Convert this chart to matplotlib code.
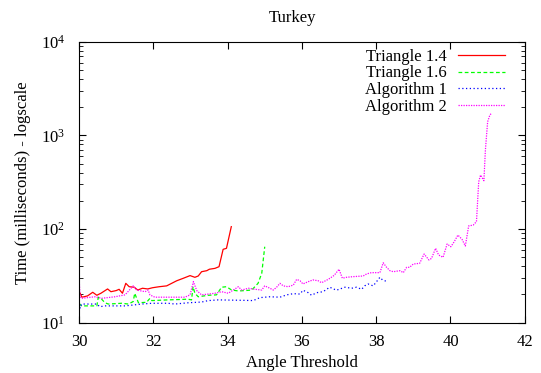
import matplotlib
matplotlib.use("Agg")
import matplotlib.pyplot as plt

plt.rcParams['font.family'] = ['Liberation Serif', 'DejaVu Serif']
plt.rcParams['mathtext.fontset'] = 'stix'

# Triangle 1.4
t14_x = [30.03, 30.08, 30.23, 30.37, 30.48, 30.59, 30.77, 30.86, 31.0, 31.08, 31.17,
         31.26, 31.35, 31.49, 31.58, 31.71, 31.85, 31.98, 32.16, 32.36, 32.63, 32.81,
         32.99, 33.12, 33.21, 33.3, 33.44, 33.51, 33.66, 33.77, 33.88, 33.97, 34.1]
t14_y = [20.6, 18.7, 19.3, 21.1, 19.6, 20.6, 22.9, 21.4, 22.0, 22.7, 20.6,
         26.3, 24.2, 23.9, 22.3, 23.3, 22.9, 23.6, 24.2, 24.7, 28.0, 29.8,
         31.8, 30.5, 31.5, 35.0, 35.9, 37.2, 38.0, 39.6, 60.7, 62.2, 106]

# Triangle 1.6
t16_x = [30.0, 30.07, 30.48, 30.52, 30.61, 30.7, 30.79, 31.15, 31.33, 31.46, 31.5,
         31.6, 31.82, 31.91, 31.96, 32.4, 32.94, 33.03, 33.07, 33.12, 33.21, 33.48,
         33.7, 33.84, 33.97, 34.11, 34.29, 34.47, 34.65, 34.82, 34.92, 34.96, 35.0]
t16_y = [16.1, 15.1, 15.1, 18.7, 17.8, 16.3, 15.8, 16.1, 15.8, 16.8, 20.6,
         16.3, 16.5, 18.2, 17.2, 17.5, 17.8, 17.5, 24.2, 20.6, 18.9, 19.6,
         19.8, 23.9, 24.2, 22.3, 21.8, 22.0, 22.3, 26.3, 33.7, 46.7, 64.7]

# Algorithm 1
a1_x = [30.0, 30.03, 30.07, 30.48, 30.56, 30.7, 31.24, 31.69, 31.96, 32.4, 32.58,
        32.94, 33.3, 33.48, 33.75, 34.47, 34.69, 34.87, 35.14, 35.41, 35.59, 35.77,
        35.95, 36.03, 36.17, 36.26, 36.4, 36.57, 36.75, 36.93, 37.16, 37.34, 37.47,
        37.61, 37.69, 37.78, 37.92, 38.01, 38.1, 38.17, 38.3]
a1_y = [16.1, 14.3, 15.8, 15.8, 14.8, 15.1, 15.1, 15.8, 16.1, 16.1, 15.8,
        16.3, 16.6, 17.2, 17.5, 17.3, 17.2, 18.5, 18.9, 18.7, 19.8, 20.4,
        20.2, 22.2, 20.9, 19.6, 20.9, 21.4, 23.9, 22.2, 23.9, 23.3, 23.9,
        22.7, 24.7, 25.9, 24.7, 27.4, 30.5, 28.6, 27.4]

# Algorithm 2
a2_x = [30.0, 30.03, 30.07, 30.43, 30.61, 30.97, 31.24, 31.46, 31.55, 31.78, 31.86,
        31.91, 32.04, 32.49, 32.85, 32.99, 33.08, 33.17, 33.3, 33.66, 33.84, 34.02,
        34.29, 34.38, 34.56, 34.74, 34.92, 35.0, 35.14, 35.23, 35.32, 35.41, 35.5,
        35.63, 35.77, 35.86, 35.95, 36.03, 36.17, 36.3, 36.44, 36.53, 36.71, 36.87,
        37.0, 37.09, 37.2, 37.38, 37.65, 37.74, 37.87, 38.1, 38.19, 38.28, 38.37,
        38.46, 38.64, 38.73, 38.82, 38.9, 39.0, 39.17, 39.29, 39.42, 39.49, 39.6,
        39.68, 39.8, 39.91, 40.01, 40.1, 40.2, 40.31, 40.4, 40.49, 40.61, 40.7,
        40.76, 40.81, 40.9, 40.94, 41.0, 41.06, 41.1]
a2_y = [31.0, 18.9, 18.2, 18.9, 18.2, 18.9, 19.8, 24.7, 22.3, 21.4, 22.3,
        19.8, 18.7, 18.7, 18.7, 19.8, 27.4, 22.0, 19.8, 20.6, 21.4, 20.6,
        24.2, 22.3, 23.3, 22.7, 22.3, 24.7, 23.3, 22.3, 23.9, 26.3, 24.7,
        24.2, 25.2, 29.0, 28.0, 25.9, 27.4, 28.6, 28.0, 26.7, 29.0, 32.0,
        37.2, 29.8, 30.5, 31.0, 31.5, 33.1, 34.2, 34.2, 43.6, 39.0, 35.9,
        35.0, 35.9, 34.2, 39.0, 39.0, 42.3, 43.0, 54.1, 46.7, 48.6, 62.2,
        52.8, 49.9, 69.2, 64.7, 73.1, 86.2, 77.7, 65.9, 108, 110, 120,
        320, 377, 328, 697, 1397, 1649, 1718]

fig = plt.figure(figsize=(5.41, 3.73), dpi=100)
ax = fig.add_axes([0.146, 0.135, 0.824, 0.753])

ax.plot(t14_x, t14_y, color='#ff0000', lw=0.9, label='Triangle 1.4')
ax.plot(t16_x, t16_y, color='#00ff00', lw=0.9, ls=(0, (3, 2)), label='Triangle 1.6')
ax.plot(a1_x, a1_y, color='#0000ff', lw=0.9, ls=(0, (1, 2)), label='Algorithm 1')
ax.plot(a2_x, a2_y, color='#ff00ff', lw=0.9, ls=(0, (1, 1)), label='Algorithm 2')

ax.set_yscale('log')
ax.set_xlim(30, 42)
ax.set_ylim(10, 10000)
ax.set_xticks([30, 32, 34, 36, 38, 40, 42])
ax.tick_params(which='both', direction='in', top=True, right=True, labelsize=12)
ax.tick_params(which='major', length=5)
ax.tick_params(which='minor', length=3)
ax.tick_params(axis='x', pad=8)
ax.tick_params(axis='y', pad=10)

ax.set_title('Turkey', fontsize=12, pad=14, x=0.48)
ax.set_xlabel('Angle Threshold', fontsize=12, labelpad=4)
ax.set_ylabel('Time (milliseconds) - logscale', fontsize=12, labelpad=7)

ax.legend(loc='upper right', bbox_to_anchor=(0.956, 0.976), frameon=False,
          markerfirst=False, fontsize=12, handlelength=2.8, labelspacing=0.05,
          borderaxespad=0, borderpad=0, handletextpad=0.7)

fig.savefig('out.png', dpi=100)
